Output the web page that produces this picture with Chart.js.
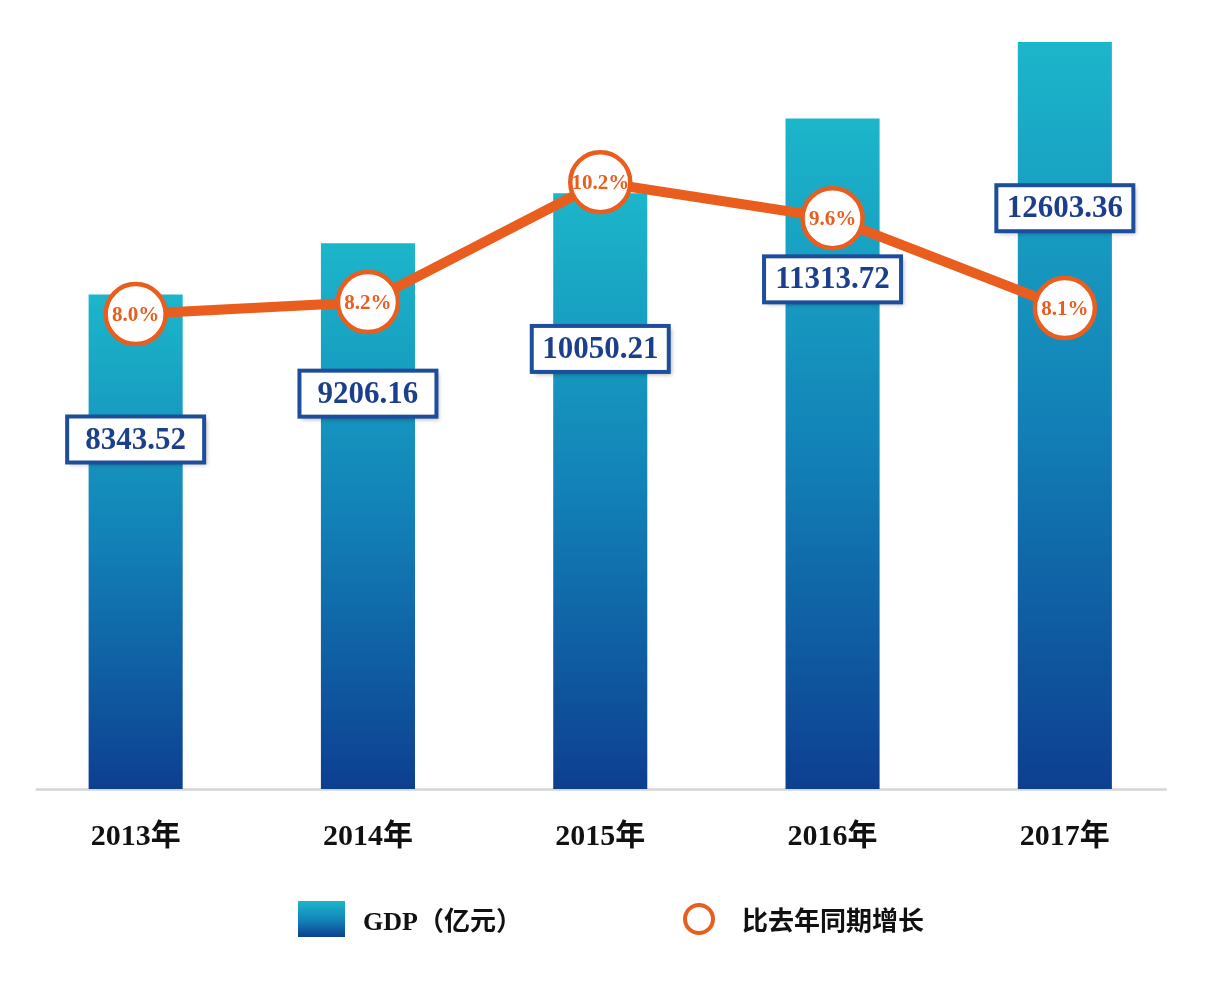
<!DOCTYPE html>
<html lang="zh-CN">
<head>
<meta charset="utf-8">
<title>GDP 2013-2017</title>
<script src="https://cdn.jsdelivr.net/npm/chart.js@4.4.1/dist/chart.umd.min.js"></script>
<style>
  body { margin: 0; background: #ffffff; }
  #wrap { position: relative; width: 1209px; height: 983px; }
  #legend .item {
    position: absolute;
    top: 900px;
    height: 37px;
    display: flex;
    align-items: center;
    font: bold 26px "Liberation Serif", "Noto Sans CJK SC", serif;
    color: #111111;
    white-space: nowrap;
  }
  #legend .swatch {
    width: 47px;
    height: 36px;
    margin-right: 18px;
    background: linear-gradient(to bottom, #1cb6ca, #1281b7 55%, #0d3f91);
  }
  #legend .ring {
    width: 32px;
    height: 32px;
    box-sizing: border-box;
    border: 4.5px solid #e95e1f;
    border-radius: 50%;
    margin-right: 27px;
  }
</style>
</head>
<body>
<div id="wrap">
  <canvas id="gdpChart"></canvas>
  <div id="legend"></div>
</div>
<script>
// ===============================
// DATA
// ===============================
const tahun = ["2013年", "2014年", "2015年", "2016年", "2017年"];
const gdp = [8343.52, 9206.16, 10050.21, 11313.72, 12603.36];
const pertumbuhan = [8.0, 8.2, 10.2, 9.6, 8.1];
const labelGdp = "GDP（亿元）";
const labelTumbuh = "比去年同期增长";

const ORANGE = "#e95e1f";
const BLUE_TEXT = "#1c3f8c";
const FONT = '"Liberation Serif", "Noto Sans CJK SC", serif';

// ===============================
// GRADIENT PER BAR
// ===============================
function barGradient(c) {
  const chart = c.chart;
  if (!chart.chartArea || c.raw == null) return "#1281b7";
  const y = chart.scales.y;
  const top = y.getPixelForValue(c.raw);
  const bottom = y.getPixelForValue(0);
  const g = chart.ctx.createLinearGradient(0, top, 0, bottom);
  g.addColorStop(0, "#1cb6ca");
  g.addColorStop(0.5, "#1281b7");
  g.addColorStop(1, "#0d3f91");
  return g;
}

// ===============================
// PLUGIN: garis sumbu + label
// ===============================
const axisLine = {
  id: "axisLine",
  beforeDatasetsDraw(chart) {
    const { ctx, chartArea, scales } = chart;
    const x0 = scales.x.getPixelForValue(0) - 100;
    const x1 = scales.x.getPixelForValue(tahun.length - 1) + 102;
    ctx.save();
    ctx.strokeStyle = "#d4d4d4";
    ctx.lineWidth = 2.5;
    ctx.beginPath();
    ctx.moveTo(x0, chartArea.bottom + 0.5);
    ctx.lineTo(x1, chartArea.bottom + 0.5);
    ctx.stroke();
    ctx.restore();
  }
};

const valueLabels = {
  id: "valueLabels",
  afterDatasetsDraw(chart) {
    const { ctx } = chart;
    const barMeta = chart.getDatasetMeta(0);
    const lineMeta = chart.getDatasetMeta(1);

    // kotak nilai GDP
    ctx.save();
    barMeta.data.forEach((bar, i) => {
      const cx = bar.x;
      const cy = bar.y + 145 + 5.3 * i;
      const w = 137, h = 46;
      ctx.shadowColor = "rgba(0,0,0,0.25)";
      ctx.shadowBlur = 4;
      ctx.shadowOffsetX = 3;
      ctx.shadowOffsetY = 3;
      ctx.fillStyle = "#ffffff";
      ctx.fillRect(cx - w / 2, cy - h / 2, w, h);
      ctx.shadowColor = "transparent";
      ctx.lineWidth = 4;
      ctx.strokeStyle = "#1e4d9b";
      ctx.strokeRect(cx - w / 2, cy - h / 2, w, h);
      ctx.fillStyle = BLUE_TEXT;
      ctx.font = "bold 31px " + FONT;
      ctx.textAlign = "center";
      ctx.textBaseline = "middle";
      ctx.fillText(gdp[i].toFixed(2), cx, cy + 1);
    });

    // persen di dalam lingkaran
    lineMeta.data.forEach((pt, i) => {
      ctx.fillStyle = ORANGE;
      ctx.font = "bold 21px " + FONT;
      ctx.textAlign = "center";
      ctx.textBaseline = "middle";
      ctx.fillText(pertumbuhan[i].toFixed(1) + "%", pt.x, pt.y + 1);
    });
    ctx.restore();
  }
};

// ===============================
// INIT CHART
// ===============================
const ctx = document.getElementById("gdpChart");
new Chart(ctx, {
  type: "bar",
  data: {
    labels: tahun,
    datasets: [
      {
        type: "bar",
        label: labelGdp,
        data: gdp,
        backgroundColor: barGradient,
        yAxisID: "y",
        order: 1,
        categoryPercentage: 1,
        barPercentage: 0.405
      },
      {
        type: "line",
        label: labelTumbuh,
        data: pertumbuhan,
        borderColor: ORANGE,
        borderWidth: 10,
        pointRadius: 30,
        pointBorderWidth: 4.5,
        pointBackgroundColor: "#ffffff",
        pointBorderColor: ORANGE,
        tension: 0,
        yAxisID: "y2",
        order: 0
      }
    ]
  },
  options: {
    responsive: true,
    maintainAspectRatio: false,
    animation: false,
    layout: {
      autoPadding: false,
      padding: { left: 19.5, right: 28, top: 18.5, bottom: 98 }
    },
    plugins: {
      legend: { display: false },
      tooltip: { enabled: false }
    },
    scales: {
      x: {
        grid: { display: false, drawTicks: false },
        border: { display: false },
        ticks: {
          color: "#111111",
          padding: 30,
          font: { family: FONT, size: 30, weight: "bold" }
        }
      },
      y: {
        display: false,
        min: 0,
        max: 13000
      },
      y2: {
        display: false,
        position: "right",
        min: 0.08,
        max: 12.93
      }
    }
  },
  plugins: [axisLine, valueLabels]
});

// ===============================
// LEGEND
// ===============================
document.getElementById("legend").innerHTML = `
  <div class="item" style="left:298px"><span class="swatch"></span>${labelGdp}</div>
  <div class="item" style="left:683px"><span class="ring"></span>${labelTumbuh}</div>
`;
</script>
</body>
</html>
